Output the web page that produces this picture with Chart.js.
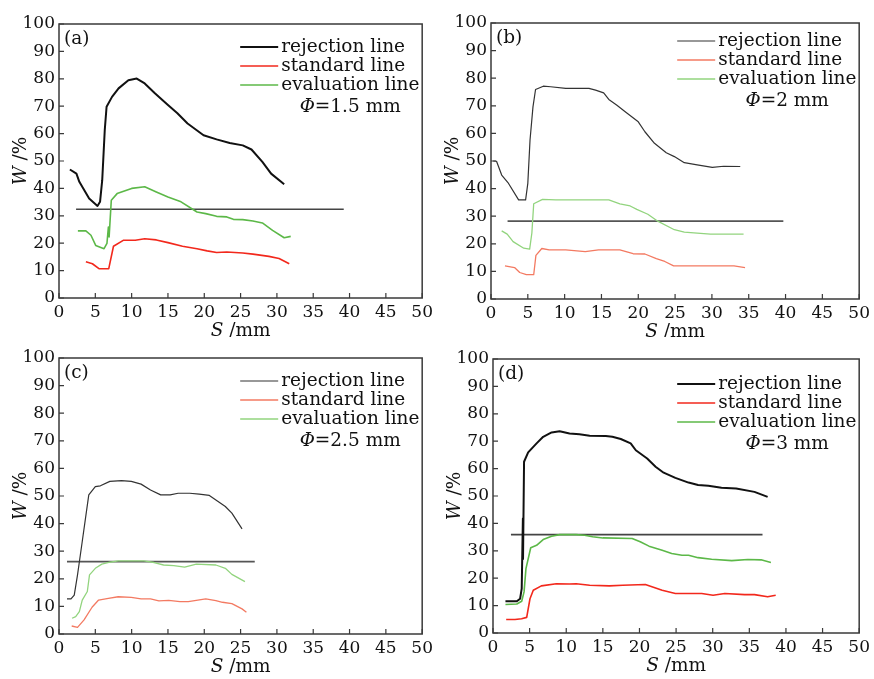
<!DOCTYPE html>
<html>
<head>
<meta charset="utf-8">
<script src="https://cdn.jsdelivr.net/npm/chart.js@4.4.1/dist/chart.umd.min.js"></script>
<style>
  body { margin: 0; background: #fff; width: 874px; height: 679px; position: relative; overflow: hidden; }
  canvas { position: absolute; }
</style>
</head>
<body>
<canvas id="panel-a" width="437" height="337" style="left:0;top:0"></canvas>
<canvas id="panel-b" width="437" height="337" style="left:437px;top:0"></canvas>
<canvas id="panel-c" width="437" height="342" style="left:0;top:337px"></canvas>
<canvas id="panel-d" width="437" height="342" style="left:437px;top:337px"></canvas>
<script>
// [S (mm), W (%)] pairs
const seriesNames = ["rejection line", "standard line", "evaluation line"];
const xTicks = [0, 50, 5];
const yTicks = [0, 100, 10];

// (a) Φ=1.5 mm
const rejA = [[1.5,46.9],[2.4,45.4],[2.8,42.4],[4.15,36.3],[5.3,33.6],[5.65,35.1],[5.95,43],[6.3,61.3],[6.55,69.8],[7.3,73.4],[8.2,76.5],[9.55,79.5],[10.7,80.1],[11.8,78.3],[13.2,74.7],[15,70.4],[16.3,67.4],[17.7,63.7],[19.9,59.4],[21.7,57.9],[23.5,56.6],[25.3,55.7],[26.5,54.2],[28,49.7],[29.2,45.4],[31,41.5]];
const stdA = [[3.7,13.2],[4.6,12.5],[5.5,10.7],[6.85,10.7],[7.5,18.9],[8.9,21.1],[10.5,21.1],[11.8,21.6],[13.4,21.2],[15,20.2],[17,18.9],[19,18],[20.4,17.2],[21.7,16.6],[23.1,16.8],[25.3,16.4],[26.7,16],[28.9,15.2],[30.3,14.4],[31.7,12.5]];
const evalA = [[2.6,24.5],[3.7,24.5],[4.4,22.9],[5.05,19.2],[6.2,18],[6.6,19.9],[6.8,25.9],[6.9,22.3],[7.2,35.7],[8,38.1],[10,40],[11.8,40.6],[13.4,38.7],[15,36.9],[16.8,35.1],[19,31.4],[20.2,30.8],[21.7,29.8],[23.1,29.6],[24,28.7],[25.3,28.6],[26.7,28.1],[28,27.4],[29.4,24.7],[31,22],[31.9,22.5]];
const refA = [[2.35,32.4],[39.2,32.4]];

// (b) Φ=2 mm
const rejB = [[0.3,50],[0.75,49.9],[1.45,44.9],[2.3,42.2],[3.75,35.9],[4.7,35.9],[5,41.9],[5.3,57.6],[5.7,69.6],[6.05,75.9],[7.1,77.1],[8.1,76.9],[10.15,76.3],[13.3,76.3],[14.2,75.7],[15.3,74.7],[16,72.3],[17.1,70.2],[18.4,67.5],[20,64.2],[20.9,60.6],[22.2,56.4],[23.8,53],[24.9,51.6],[26.25,49.4],[28,48.6],[30.05,47.7],[31.6,48.1],[33.85,48]];
const stdB = [[1.9,12],[3.2,11.4],[3.9,9.6],[4.8,8.8],[5.8,8.8],[6.1,15.8],[6.9,18.3],[7.9,17.8],[10.15,17.8],[12.8,17.2],[14.6,17.8],[17.5,17.8],[19.3,16.4],[20.9,16.3],[22.45,14.6],[23.6,13.6],[24.8,12],[28,12],[33,12],[34.5,11.4]];
const evalB = [[1.45,24.7],[2.2,23.5],[3,20.8],[4.45,18.4],[5.25,18.1],[5.55,23.9],[5.8,34.5],[7,36.1],[8.8,35.9],[12.8,35.9],[16,35.9],[17.5,34.5],[18.9,33.7],[19.8,32.5],[21.3,30.7],[22.7,28.1],[24.9,25.1],[26.25,24.2],[28,23.9],[29.8,23.5],[34.3,23.5]];
const refB = [[2.25,28.2],[39.7,28.2]];

// (c) Φ=2.5 mm
const rejC = [[1.1,12.7],[1.65,12.7],[2.1,14.1],[2.55,21.4],[3.2,33.5],[3.65,42],[4.1,50.4],[5,53.4],[5.7,53.7],[7,55.3],[8.6,55.6],[9.95,55.3],[11.3,54.3],[12.6,52.2],[14,50.4],[15.3,50.4],[16.4,51],[18,51],[19.3,50.7],[20.7,50.2],[21.8,48.2],[22.9,46.2],[23.8,43.8],[25.2,38.1]];
const stdC = [[1.75,2.9],[2.55,2.4],[3.45,5.1],[4.55,9.7],[5.45,12.3],[6.8,12.9],[8.15,13.5],[9.95,13.3],[11.3,12.7],[12.6,12.7],[13.75,12],[15.1,12.2],[16.65,11.7],[17.8,11.7],[18.9,12.2],[20.2,12.7],[21.6,12.1],[22.5,11.5],[23.8,11],[25.2,9.1],[25.8,7.9]];
const evalC = [[1.8,5.7],[2.3,6.3],[2.8,8.1],[3.2,12.3],[3.9,15.4],[4.2,21.4],[5,23.8],[5.9,25.3],[7,26],[8.15,26.5],[11.7,26.5],[13.1,25.9],[14.4,25],[15.8,24.8],[17.3,24.2],[18.9,25.3],[21.6,25],[22.9,23.8],[23.8,21.6],[25.6,19]];
const refC = [[1.1,26.2],[26.95,26.2]];

// (d) Φ=3 mm
const rejD = [[1.7,11.6],[3.25,11.6],[3.7,12.5],[3.92,16.2],[4.08,41.8],[4.1,27],[4.24,62.5],[4.8,65.9],[5.95,69.2],[6.85,71.6],[8,73.2],[9.1,73.6],[10.45,72.8],[11.8,72.5],[13.2,72],[15.4,71.9],[16.3,71.6],[17.45,70.8],[18.8,69.2],[19.5,66.7],[21.05,63.7],[22.2,60.7],[23.3,58.5],[24.9,56.6],[26.7,54.9],[28,54],[29.4,53.7],[31.2,53],[33.2,52.7],[35.7,51.5],[37.5,49.7]];
const stdD = [[1.8,4.9],[3,4.9],[3.9,5.2],[4.6,5.7],[5.05,12.5],[5.5,15.6],[6.6,17.2],[8.65,18],[10.45,17.9],[11.35,18],[13.2,17.4],[15.9,17.2],[17.7,17.4],[20.8,17.7],[23.1,15.6],[24.9,14.4],[28.5,14.4],[30.05,13.8],[31.65,14.4],[34.35,14],[35.7,14],[37.5,13.2],[38.6,13.8]];
const evalD = [[1.7,10.4],[3.25,10.6],[3.92,11.6],[4.24,15],[4.5,23.5],[5.15,31.1],[5.95,32],[6.85,34.1],[8,35.3],[9.1,35.9],[11.35,35.9],[12.5,35.7],[13.6,35.1],[15,34.7],[19,34.5],[20.1,33.3],[21.3,31.7],[23.1,30.2],[24.4,29],[25.8,28.4],[26.7,28.4],[28,27.5],[29.85,26.9],[32.6,26.4],[34.8,26.8],[36.6,26.7],[37.95,25.7]];
const refD = [[2.45,35.9],[36.8,35.9]];

const serifFont = "'DejaVu Serif', serif";
const inkColor = "#111111";
const textSize = 18.5;

const panelDecor = {
  id: "panelDecor",
  afterDraw(chart, args, opts) {
    const { ctx, chartArea: area, scales } = chart;
    const xs = scales.x, ys = scales.y;
    const plain = textSize + "px " + serifFont;
    const ital = "italic " + textSize + "px " + serifFont;
    ctx.save();
    // frame
    ctx.strokeStyle = "#3a3a3a";
    ctx.lineWidth = 1.5;
    ctx.strokeRect(area.left, area.top, area.right - area.left, area.bottom - area.top);
    // inward tick marks
    ctx.lineWidth = 1.2;
    ctx.beginPath();
    xs.ticks.forEach(t => {
      const px = xs.getPixelForValue(t.value);
      ctx.moveTo(px, area.bottom);
      ctx.lineTo(px, area.bottom - 5);
    });
    ys.ticks.forEach(t => {
      const py = ys.getPixelForValue(t.value);
      ctx.moveTo(area.left, py);
      ctx.lineTo(area.left + 5, py);
    });
    ctx.stroke();

    ctx.fillStyle = inkColor;
    ctx.textBaseline = "middle";
    ctx.font = plain;

    // panel tag
    ctx.textAlign = "left";
    ctx.fillText(opts.tag, area.left + 5, area.top + 15);

    // legend
    chart.data.datasets.forEach((ds, i) => {
      if (!ds.label) return;
      const ly = area.top + opts.legendTop + i * 19;
      ctx.strokeStyle = ds.borderColor;
      ctx.lineWidth = ds.borderWidth;
      ctx.beginPath();
      ctx.moveTo(area.right - 182, ly);
      ctx.lineTo(area.right - 144, ly);
      ctx.stroke();
      ctx.fillText(ds.label, area.right - 141, ly);
    });

    // Φ note
    const phiY = area.top + opts.legendTop + 60;
    ctx.font = ital;
    const w1 = ctx.measureText("Φ").width;
    ctx.font = plain;
    const w2 = ctx.measureText(opts.phi).width;
    const px = area.right - 72 - (w1 + w2) / 2;
    ctx.font = ital;
    ctx.fillText("Φ", px, phiY);
    ctx.font = plain;
    ctx.fillText(opts.phi, px + w1, phiY);

    // axis titles with italic symbol
    const drawTitle = (sym, rest, cx, cy, rot) => {
      ctx.save();
      ctx.translate(cx, cy);
      ctx.rotate(rot);
      ctx.font = ital;
      const a = ctx.measureText(sym).width;
      ctx.font = plain;
      const b = ctx.measureText(rest).width;
      ctx.font = ital;
      ctx.fillText(sym, -(a + b) / 2, 0);
      ctx.font = plain;
      ctx.fillText(rest, -(a + b) / 2 + a, 0);
      ctx.restore();
    };
    drawTitle("S", " /mm", (area.left + area.right) / 2, area.bottom + 33, 0);
    drawTitle("W", " /%", area.left - 38, (area.top + area.bottom) / 2, -Math.PI / 2);
    ctx.restore();
  }
};

function toPoints(pairs) {
  return pairs.map(p => ({ x: p[0], y: p[1] }));
}

function buildPanel(id, tag, phi, series, ref, look, box) {
  const canvas = document.getElementById(id);
  const datasets = series.map((s, i) => ({
    label: seriesNames[i],
    data: toPoints(s),
    borderColor: look.colors[i],
    borderWidth: look.widths[i],
    pointRadius: 0,
    tension: 0,
    borderJoinStyle: "round",
    fill: false,
  }));
  datasets.push({
    label: "",
    data: toPoints(ref),
    borderColor: look.refColor,
    borderWidth: look.refWidth,
    pointRadius: 0,
    fill: false,
  });
  new Chart(canvas, {
    type: "line",
    data: { datasets },
    options: {
      responsive: false,
      animation: false,
      layout: { padding: { left: 0, top: box.top, right: canvas.width - box.right, bottom: 0 } },
      scales: {
        x: {
          type: "linear",
          min: xTicks[0], max: xTicks[1],
          grid: { display: false, drawTicks: false },
          border: { display: false },
          ticks: { stepSize: xTicks[2], padding: 4, color: inkColor, font: { family: serifFont, size: 17 }, maxRotation: 0 },
          afterFit: s => { s.height = canvas.height - box.bottom; },
        },
        y: {
          min: yTicks[0], max: yTicks[1],
          grid: { display: false, drawTicks: false },
          border: { display: false },
          ticks: { stepSize: yTicks[2], padding: 4, color: inkColor, font: { family: serifFont, size: 17 } },
          afterFit: s => { s.width = box.left; },
        },
      },
      plugins: {
        legend: { display: false },
        tooltip: { enabled: false },
        panelDecor: { tag, phi, legendTop: box.legendTop },
      },
    },
    plugins: [panelDecor],
  });
}

const boldLook = { colors: ["#111111", "#f2281c", "#5cb848"], widths: [2, 1.6, 1.6], refColor: "#444444", refWidth: 1.6 };
const thinLook = { colors: ["#333333", "#f37a62", "#92d47e"], widths: [1.2, 1.3, 1.3], refColor: "#555555", refWidth: 1.8 };

buildPanel("panel-a", "(a)", "=1.5 mm", [rejA, stdA, evalA], refA, boldLook, { left: 59, right: 429, top: 24, bottom: 298, legendTop: 23 });
buildPanel("panel-b", "(b)", "=2 mm", [rejB, stdB, evalB], refB, thinLook, { left: 54, right: 427, top: 23, bottom: 299, legendTop: 18 });
buildPanel("panel-c", "(c)", "=2.5 mm", [rejC, stdC, evalC], refC, thinLook, { left: 59, right: 432, top: 21, bottom: 297, legendTop: 23 });
buildPanel("panel-d", "(d)", "=3 mm", [rejD, stdD, evalD], refD, boldLook, { left: 56, right: 426, top: 22, bottom: 296, legendTop: 25 });
</script>
</body>
</html>
